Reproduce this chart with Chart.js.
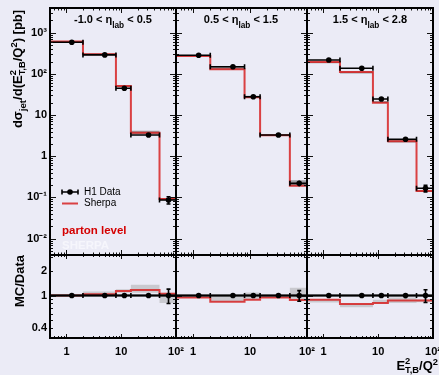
<!DOCTYPE html>
<html>
<head>
<meta charset="utf-8">
<title>H1 dijets vs E_T,B^2/Q^2</title>
<script src="https://cdn.jsdelivr.net/npm/chart.js@4.4.1/dist/chart.umd.min.js"></script>
<style>
  body { margin: 0; background: #ebebf6; }
  #plot { position: relative; width: 439px; height: 375px; overflow: hidden; background: #ebebf6;
          font-family: "Liberation Sans", Arial, Helvetica, sans-serif; }
  #plot canvas { position: absolute; left: 0; top: 0; }
  .txt { position: absolute; white-space: nowrap; font-weight: bold; line-height: 1; color: #000; }
  .sub { font-size: 0.75em; position: relative; top: 0.4em; }
  .tsub { font-size: 0.75em; position: relative; top: 0.55em; }
  .sup { font-size: 0.72em; position: relative; top: -0.5em; }
  .st { position: relative; display: inline-block; font-size: 0.72em; top: 0.35em; }
  .st .hi { position: absolute; left: 0; top: -0.95em; }
  .rot { transform: translate(-50%, -50%) rotate(-90deg); }
  .ctr { transform: translateX(-50%); }
</style>
</head>
<body>
<div id="plot">
  <canvas id="ratio1" width="439" height="375"></canvas>
  <canvas id="ratio2" width="439" height="375"></canvas>
  <canvas id="ratio3" width="439" height="375"></canvas>
  <canvas id="top1" width="439" height="375"></canvas>
  <canvas id="top2" width="439" height="375"></canvas>
  <canvas id="top3" width="439" height="375"></canvas>

  <div class="txt ctr" style="left:113px;top:14px;font-size:11px">-1.0 &lt; η<span class="tsub">lab</span> &lt; 0.5</div>
  <div class="txt ctr" style="left:241px;top:14px;font-size:11px">0.5 &lt; η<span class="tsub">lab</span> &lt; 1.5</div>
  <div class="txt ctr" style="left:370px;top:14px;font-size:11px">1.5 &lt; η<span class="tsub">lab</span> &lt; 2.8</div>

  <div class="txt rot" style="left:18px;top:69px;font-size:13px">dσ<span class="sub">jet</span>/d(E<span class="st"><span>T,B</span><span class="hi">2</span></span>/Q<span class="sup">2</span>) [pb]</div>
  <div class="txt rot" style="left:19px;top:281px;font-size:13px">MC/Data</div>
  <div class="txt" style="right:1px;top:359px;font-size:13px">E<span class="st"><span>T,B</span><span class="hi">2</span></span>/Q<span class="sup">2</span></div>

  <div class="txt" style="left:84px;top:187px;font-size:10px;font-weight:normal">H1 Data</div>
  <div class="txt" style="left:84px;top:198px;font-size:10px;font-weight:normal">Sherpa</div>
  <div class="txt" style="left:62px;top:225px;font-size:11.5px;color:#d40000">parton level</div>
  <div class="txt" style="left:62px;top:240px;font-size:11.5px;color:#f6f6fc">SHERPA</div>
</div>
<script>
// E_T,B^2/Q^2 bin edges and the H1 bin centres
const binEdges = [0.5, 2, 8, 15, 50, 100];
const binCentres = [1.25, 5.0, 11.4, 31.5, 73];

// tick labels
const xTicks = [1, 10, 100];
const xsecTicks = [0.01, 0.1, 1, 10, 100, 1000];
const ratioTicks = [0.4, 1, 2];
const ratioRef = 1;

// -1.0 < eta_lab < 0.5
const h1Eta1 = [590, 290, 45, 3.3, 0.087];
const h1ErrEta1 = [0.03, 0.03, 0.04, 0.05, 0.2];
const sherpaEta1 = [610, 300, 51, 3.75, 0.092];
const sherpaLoEta1 = [598, 293, 48.5, 3.5, 0.085];
const sherpaHiEta1 = [622, 318, 53.5, 4.2, 0.097];
const ratioEta1 = [1.0, 1.04, 1.14, 1.17, 1.05];
const ratioLoEta1 = [0.99, 1.02, 1.08, 1.08, 0.81];
const ratioHiEta1 = [1.02, 1.12, 1.2, 1.36, 1.08];

// 0.5 < eta_lab < 1.5
const h1Eta2 = [284, 150, 28, 3.3, 0.22];
const h1ErrEta2 = [0.03, 0.03, 0.06, 0.04, 0.15];
const sherpaEta2 = [273, 130, 27, 3.24, 0.193];
const sherpaLoEta2 = [269, 129, 26.5, 3.18, 0.188];
const sherpaHiEta2 = [277, 150, 29.5, 3.32, 0.26];
const ratioEta2 = [0.95, 0.84, 0.89, 0.95, 0.88];
const ratioLoEta2 = [0.94, 0.84, 0.89, 0.94, 0.87];
const ratioHiEta2 = [0.97, 0.98, 1.09, 0.97, 1.25];

// 1.5 < eta_lab < 2.8
const h1Eta3 = [218, 137, 24.7, 2.6, 0.167];
const h1ErrEta3 = [0.04, 0.05, 0.06, 0.07, 0.18];
const sherpaEta3 = [195, 112, 20, 2.31, 0.144];
const sherpaLoEta3 = [182, 103, 19.6, 2.15, 0.136];
const sherpaHiEta3 = [198, 114, 22, 2.5, 0.15];
const ratioEta3 = [0.89, 0.79, 0.81, 0.87, 0.87];
const ratioLoEta3 = [0.82, 0.72, 0.8, 0.81, 0.83];
const ratioHiEta3 = [0.9, 0.8, 0.89, 0.95, 0.9];

const panels = [
  { h1: h1Eta1, err: h1ErrEta1, mc: sherpaEta1, mcLo: sherpaLoEta1, mcHi: sherpaHiEta1, r: ratioEta1, rLo: ratioLoEta1, rHi: ratioHiEta1 },
  { h1: h1Eta2, err: h1ErrEta2, mc: sherpaEta2, mcLo: sherpaLoEta2, mcHi: sherpaHiEta2, r: ratioEta2, rLo: ratioLoEta2, rHi: ratioHiEta2 },
  { h1: h1Eta3, err: h1ErrEta3, mc: sherpaEta3, mcLo: sherpaLoEta3, mcHi: sherpaHiEta3, r: ratioEta3, rLo: ratioLoEta3, rHi: ratioHiEta3 }
];

// layout of the pads (pixels)
const W = 439, H = 375;
const padX = [[50, 176], [176, 307], [307, 433]];
const topY = [8, 255], ratioY = [255, 338];
const red = 'rgba(214, 22, 22, 0.8)';
const tickFont = { family: "'Liberation Sans', Arial, sans-serif", size: 11, weight: 'bold' };

function supDigits(n) {
  const map = { '-': '\u207B', '0': '\u2070', '1': '\u00B9', '2': '\u00B2', '3': '\u00B3',
                '4': '\u2074', '5': '\u2075', '6': '\u2076', '7': '\u2077', '8': '\u2078', '9': '\u2079' };
  return String(n).split('').map(c => map[c]).join('');
}
function powLabel(v) {
  const e = Math.round(Math.log10(v));
  if (e === 0) return '1';
  if (e === 1) return '10';
  return '10' + supDigits(e);
}

function logTicks(min, max) {
  const major = [], minor = [];
  for (let e = Math.floor(Math.log10(min)) - 1; e <= Math.ceil(Math.log10(max)); e++) {
    for (let k = 1; k < 10; k++) {
      const v = k * Math.pow(10, e);
      if (v < min * 0.999 || v > max * 1.001) continue;
      (k === 1 ? major : minor).push(v);
    }
  }
  return { major, minor };
}

// step histogram points: one per bin edge, last value repeated
function edgePoints(vals) {
  return binEdges.map((e, i) => ({ x: e, y: vals[Math.min(i, vals.length - 1)] }));
}
function dataPoints(vals, errs) {
  return binCentres.map((c, i) => ({
    x: c, y: vals[i],
    xMin: binEdges[i], xMax: binEdges[i + 1],
    yMin: vals[i] * (1 - errs[i]), yMax: vals[i] * (1 + errs[i])
  }));
}

// ROOT-like frame, inside ticks, error bars
const rootFrame = {
  id: 'rootFrame',
  beforeDatasetDraw(chart, args) {
    const ds = chart.data.datasets[args.index];
    if (!ds.errorBars) return;
    const { ctx, chartArea: a, scales: { x, y } } = chart;
    ctx.save();
    ctx.beginPath();
    ctx.rect(a.left, a.top, a.right - a.left, a.bottom - a.top);
    ctx.clip();
    ctx.strokeStyle = '#000';
    ctx.lineWidth = 1.6;
    ctx.beginPath();
    ds.data.forEach(p => {
      const px = x.getPixelForValue(p.x), py = y.getPixelForValue(p.y);
      const l = x.getPixelForValue(p.xMin), r = x.getPixelForValue(p.xMax);
      const t = y.getPixelForValue(p.yMax), b = y.getPixelForValue(p.yMin);
      ctx.moveTo(l, py); ctx.lineTo(r, py);
      ctx.moveTo(l, py - 2.5); ctx.lineTo(l, py + 2.5);
      ctx.moveTo(r, py - 2.5); ctx.lineTo(r, py + 2.5);
      ctx.moveTo(px, t); ctx.lineTo(px, b);
      if (b - t > 6) {
        ctx.moveTo(px - 2, t); ctx.lineTo(px + 2, t);
        ctx.moveTo(px - 2, b); ctx.lineTo(px + 2, b);
      }
    });
    ctx.stroke();
    ctx.restore();
  },
  afterDraw(chart, args, opts) {
    const { ctx, chartArea: a, scales: { x, y } } = chart;
    ctx.save();
    ctx.strokeStyle = '#111';
    ctx.lineWidth = 1;
    ctx.beginPath();
    const tx = logTicks(x.min, x.max), ty = logTicks(y.min, y.max);
    [[tx.major, opts.majorX], [tx.minor, opts.minorX]].forEach(([vals, len]) => vals.forEach(v => {
      const px = Math.round(x.getPixelForValue(v)) + 0.5;
      ctx.moveTo(px, a.top); ctx.lineTo(px, a.top + len);
      ctx.moveTo(px, a.bottom); ctx.lineTo(px, a.bottom - len);
    }));
    [[ty.major, opts.majorY], [ty.minor, opts.minorY]].forEach(([vals, len]) => vals.forEach(v => {
      const py = Math.round(y.getPixelForValue(v)) + 0.5;
      ctx.moveTo(a.left, py); ctx.lineTo(a.left + len, py);
      ctx.moveTo(a.right, py); ctx.lineTo(a.right - len, py);
    }));
    ctx.stroke();
    ctx.strokeStyle = '#000';
    ctx.lineWidth = 2;
    ctx.strokeRect(a.left, a.top, a.right - a.left, a.bottom - a.top);

    if (opts.legend) {
      ctx.lineWidth = 1.6;
      ctx.beginPath();
      ctx.moveTo(62, 192); ctx.lineTo(78, 192);
      ctx.moveTo(62, 189.5); ctx.lineTo(62, 194.5);
      ctx.moveTo(78, 189.5); ctx.lineTo(78, 194.5);
      ctx.stroke();
      ctx.fillStyle = '#000';
      ctx.beginPath(); ctx.arc(70, 192, 2.8, 0, Math.PI * 2); ctx.fill();
      ctx.strokeStyle = red;
      ctx.lineWidth = 2;
      ctx.beginPath(); ctx.moveTo(62, 203.5); ctx.lineTo(78, 203.5); ctx.stroke();
    }
    ctx.restore();
  }
};
Chart.register(rootFrame);

function axis(min, max, ticks, show, size, label, pad, horizontal) {
  return {
    type: 'logarithmic', min, max, display: show,
    grid: { display: false, drawTicks: false },
    border: { display: false },
    ticks: { autoSkip: false, maxRotation: 0, padding: pad, color: '#000', font: tickFont,
             callback: v => label(v) },
    afterBuildTicks: s => { s.ticks = ticks.map(v => ({ value: v })); },
    afterFit: s => {
      if (!show) return;
      if (horizontal) s.height = size; else s.width = size;
      s.paddingLeft = s.paddingRight = s.paddingTop = s.paddingBottom = 0;
    }
  };
}

function makeChart(id, o) {
  return new Chart(document.getElementById(id), {
    type: 'line',
    data: { datasets: o.datasets },
    options: {
      responsive: false, animation: false, devicePixelRatio: 1,
      layout: { padding: { left: o.showY ? 0 : o.x0, top: o.y0, right: W - o.x1, bottom: o.showX ? 0 : H - o.y1 } },
      elements: { line: { tension: 0 } },
      plugins: {
        legend: { display: false }, tooltip: { enabled: false },
        rootFrame: { majorX: o.tick[0], minorX: o.tick[1], majorY: o.tick[2], minorY: o.tick[3], legend: !!o.legend }
      },
      scales: {
        x: axis(binEdges[0], binEdges[binEdges.length - 1], xTicks, o.showX, H - o.y1, powLabel, 7, true),
        y: axis(o.yMin, o.yMax, o.yTicks, o.showY, o.x0, o.yLabel, 3, false)
      }
    }
  });
}

function h1Set(vals, errs) {
  return { label: 'H1 Data', data: dataPoints(vals, errs), showLine: false, errorBars: true,
           pointRadius: 2.8, pointBackgroundColor: '#000', pointBorderWidth: 0 };
}
function stepSet(vals, color, width) {
  return { data: edgePoints(vals), stepped: true, borderColor: color, borderWidth: width,
           pointRadius: 0, fill: false, clip: 0 };
}
function bandSets(lo, hi, color) {
  return [
    { data: edgePoints(hi), stepped: true, borderColor: 'rgba(0,0,0,0)', borderWidth: 1,
      pointRadius: 0, backgroundColor: color, fill: '+1' },
    { data: edgePoints(lo), stepped: true, borderColor: 'rgba(0,0,0,0)', borderWidth: 1,
      pointRadius: 0, fill: false }
  ];
}

panels.forEach((p, i) => {
  const [x0, x1] = padX[i];
  makeChart('top' + (i + 1), {
    x0, x1, y0: topY[0], y1: topY[1], yMin: 0.004, yMax: 4000,
    yTicks: xsecTicks, yLabel: powLabel, showY: i === 0, showX: false,
    tick: [5, 2.5, 6, 3], legend: i === 0,
    datasets: [
      h1Set(p.h1, p.err),
      stepSet(p.mc, red, 2),
      ...bandSets(p.mcLo, p.mcHi, 'rgba(95,95,95,0.55)')
    ]
  });
  const ones = binEdges.map(() => ratioRef);
  makeChart('ratio' + (i + 1), {
    x0, x1, y0: ratioY[0], y1: ratioY[1], yMin: Math.pow(10, -0.5), yMax: Math.pow(10, 0.5),
    yTicks: ratioTicks, yLabel: v => String(v), showY: i === 0, showX: true,
    tick: [4, 2, 6, 3],
    datasets: [
      h1Set(binCentres.map(() => ratioRef), p.err),
      { data: binEdges.map((e, k) => ({ x: e, y: ones[k] })), borderColor: '#000', borderWidth: 2,
        pointRadius: 0, fill: false },
      stepSet(p.r, red, 2),
      ...bandSets(p.rLo, p.rHi, 'rgba(150,150,150,0.4)')
    ]
  });
});
</script>
</body>
</html>
